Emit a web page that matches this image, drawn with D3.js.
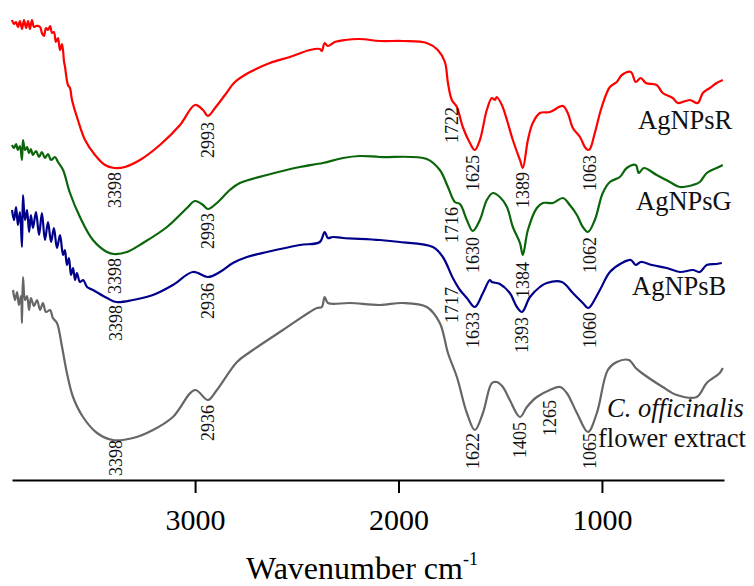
<!DOCTYPE html>
<html>
<head>
<meta charset="utf-8">
<script src="https://cdn.jsdelivr.net/npm/d3@7"></script>
<style>
  body { margin: 0; background: #fff; }
  svg { display: block; font-family: "Liberation Serif", "Times New Roman", serif; }
</style>
</head>
<body>
<div id="chart"></div>
<script>
// wavenumber (cm-1) and relative transmittance (offset, a.u.)
const redW = [3900,3890,3880,3871,3861,3851,3841,3831,3821,3812,3802,3792,3782,3762,3753,3743,3733,3723,3713,3703,3694,3684,3674,3664,3654,3644,3640,3625,3615,3605,3576,3541,3492,3443,3398,3345,3271,3173,3074,3001,2961,2937,2902,2853,2804,2730,2632,2534,2436,2387,2377,2363,2347,2313,2264,2190,2092,1979,1861,1807,1772,1757,1738,1713,1684,1649,1625,1600,1566,1541,1526,1517,1492,1467,1438,1403,1389,1364,1340,1305,1256,1192,1168,1143,1108,1084,1069,1059,1035,1001,961,927,902,858,834,809,784,731,701,652,627,568,529,504,470,436,406]
const redT = [460,456,458,453,459,451,460,452,459,451,460,453,454,453,447,444,452,450,454,447,448,438,442,430,436,418,414,395,392,380,360,340,325,315,312,313,320,335,355,375,370,364,372,385,398,408,417,423,430,431,429,437,434,438,440,441,439,439,437,430,418,397,380,373,353,337,330,340,370,382,380,383,375,360,340,320,312,340,357,367,368,374,367,352,343,333,330,331,347,373,393,398,405,408,398,402,397,395,387,382,377,380,377,387,392,397,400]

const greenW = [3900,3890,3880,3871,3861,3851,3846,3836,3826,3816,3807,3797,3782,3767,3753,3738,3723,3708,3689,3674,3649,3615,3566,3502,3433,3398,3335,3256,3138,3040,3001,2961,2937,2893,2829,2780,2647,2485,2372,2273,2190,2092,1861,1797,1757,1723,1698,1664,1635,1600,1566,1536,1502,1467,1438,1403,1389,1364,1320,1290,1241,1192,1158,1123,1094,1069,1035,996,961,912,878,834,819,794,731,666,617,553,519,485,436,406]
const greenT = [335,332,336,330,334,320,340,330,333,327,331,325,329,323,328,322,326,320,323,318,310,287,263,240,228,226,228,237,253,272,279,275,271,277,290,297,305,313,317,322,324,323,321,310,293,278,276,260,249,260,280,287,283,273,253,237,225,250,272,277,277,282,275,265,253,248,260,287,298,303,312,315,307,312,305,298,293,295,298,307,312,315]

const blueW = [3900,3890,3880,3871,3861,3851,3846,3836,3826,3816,3807,3797,3782,3767,3753,3738,3723,3708,3694,3679,3664,3649,3640,3630,3620,3610,3600,3590,3581,3566,3550,3531,3502,3433,3388,3305,3207,3109,3011,2937,2878,2814,2745,2647,2485,2387,2363,2347,2323,2273,2092,1993,1831,1782,1733,1698,1664,1625,1585,1551,1541,1502,1453,1418,1393,1354,1305,1271,1197,1143,1094,1069,1059,1010,961,902,858,834,809,755,681,617,553,519,485,436,411]
const blueT = [270,260,273,255,268,233,285,260,270,248,265,252,268,245,267,240,258,238,252,232,245,225,230,215,222,205,212,200,207,198,200,193,190,182,178,180,185,195,208,203,208,217,223,228,235,238,248,242,243,242,240,238,233,223,202,190,182,173,187,200,198,196,187,173,168,183,193,197,198,187,177,172,173,190,208,217,220,215,218,215,212,208,210,208,215,216,217]

const grayW = [3895,3885,3875,3866,3856,3851,3846,3836,3826,3816,3807,3792,3777,3762,3748,3733,3713,3699,3679,3654,3630,3600,3551,3482,3404,3305,3207,3109,3001,2937,2893,2794,2730,2568,2401,2377,2363,2347,2239,2092,1979,1861,1797,1757,1713,1664,1625,1585,1541,1517,1487,1453,1403,1369,1320,1256,1206,1173,1123,1069,1025,971,927,868,834,804,701,632,534,485,421,406]
const grayT = [190,180,188,175,184,157,203,180,184,170,182,174,180,170,177,168,170,162,157,133,107,83,63,47,40,42,50,63,90,80,90,118,128,150,172,173,183,177,177,175,177,173,157,127,103,67,50,67,97,98,93,80,63,73,83,90,93,87,67,48,67,110,118,120,112,107,93,85,83,97,107,112]

// peak labels: text, position (wavenumber), transmittance where the label ends
const redPeaks = ["3398","2993","1722","1625","1389","1063"]
const redPeakW = [3393,2937,1738,1635,1389,1059]
const redPeakT = [308,358,373,325,308,325]
const greenPeaks = ["3398","2993","1716","1630","1384","1062"]
const greenPeakW = [3393,2937,1738,1635,1389,1059]
const greenPeakT = [222,267,273,243,218,243]
const bluePeaks = ["3398","2936","1717","1633","1393","1060"]
const bluePeakW = [3388,2937,1738,1635,1393,1059]
const bluePeakT = [175,197,193,168,163,168]
const grayPeaks = ["3398","2936","1622","1405","1265","1065"]
const grayPeakW = [3388,2937,1635,1403,1256,1059]
const grayPeakT = [40,75,47,58,80,47]

const xTicks = [3000, 2000, 1000]

const width = 754, height = 586

const svg = d3.select('#chart')
    .append('svg')
        .attr('width', width)
        .attr('height', height)

const x = d3.scaleLinear().domain([3900, 400]).range([12, 724])
const y = d3.scaleLinear().domain([0, 480]).range([480, 0])

const series = [
    {w: redW, t: redT, color: '#ff0000', peaks: redPeaks, pw: redPeakW, pt: redPeakT},
    {w: greenW, t: greenT, color: '#0b650b', peaks: greenPeaks, pw: greenPeakW, pt: greenPeakT},
    {w: blueW, t: blueT, color: '#00008b', peaks: bluePeaks, pw: bluePeakW, pt: bluePeakT},
    {w: grayW, t: grayT, color: '#666666', peaks: grayPeaks, pw: grayPeakW, pt: grayPeakT}
]

const line = d3.line()
    .curve(d3.curveCatmullRom.alpha(0.5))
    .x(d => x(d[0]))
    .y(d => y(d[1]))

series.forEach(s => {
    svg.append('path')
        .datum(d3.zip(s.w, s.t))
        .attr('fill', 'none')
        .attr('stroke', s.color)
        .attr('stroke-width', 2.2)
        .attr('stroke-linejoin', 'round')
        .attr('d', line)

    // rotated peak labels, reading bottom to top
    svg.append('g').selectAll('text')
        .data(d3.zip(s.peaks, s.pw, s.pt))
        .enter()
        .append('text')
            .attr('transform', d => 'translate(' + x(d[1]) + ',' + y(d[2]) + ') rotate(-90)')
            .attr('text-anchor', 'end')
            .attr('dy', '0.35em')
            .attr('font-size', 18)
            .attr('fill', '#111')
            .text(d => d[0])
})

// series names
const names = svg.append('g').attr('font-size', 26.5).attr('fill', '#111')
names.append('text').attr('x', 638).attr('y', 129).text('AgNPsR')
names.append('text').attr('x', 636).attr('y', 210).text('AgNPsG')
names.append('text').attr('x', 632).attr('y', 295).text('AgNPsB')
names.append('text').attr('x', 607).attr('y', 417).attr('font-style', 'italic').text('C. officinalis')
names.append('text').attr('x', 598).attr('y', 447).text('flower extract')

// x axis
const axis = svg.append('g')
    .attr('transform', 'translate(0,480)')
    .call(d3.axisBottom(x).tickValues(xTicks).tickSize(13).tickSizeOuter(0).tickFormat(d3.format('d')))

axis.select('.domain').attr('stroke', '#000').attr('stroke-width', 2)
axis.selectAll('.tick line').attr('stroke', '#000').attr('stroke-width', 2)
axis.selectAll('.tick text')
    .attr('font-family', '"Liberation Serif", "Times New Roman", serif')
    .attr('font-size', 30)
    .attr('fill', '#000')
    .attr('dy', null)
    .attr('y', 50)

const title = svg.append('text')
    .attr('x', 246)
    .attr('y', 579)
    .attr('font-size', 32)
    .attr('fill', '#000')
title.append('tspan').text('Wavenumber cm')
title.append('tspan').attr('font-size', 18).attr('dy', -14).text('-1')
</script>
</body>
</html>
